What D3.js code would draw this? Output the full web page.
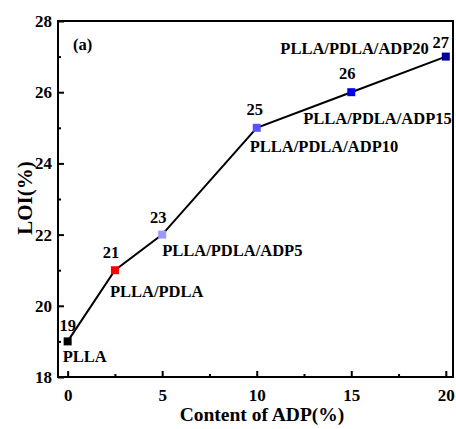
<!DOCTYPE html>
<html>
<head>
<meta charset="utf-8">
<script src="https://cdn.jsdelivr.net/npm/d3@7"></script>
<style>
  body { margin: 0; background: #fff; }
  svg text { font-family: "Liberation Serif", "Times New Roman", serif; font-weight: bold; fill: #000; }
</style>
</head>
<body>
<svg id="chart" width="456" height="429"></svg>
<script>
// data
const adpContent = [0, 2.5, 5, 10, 15, 20];
const loiValues = [19, 21, 22, 25, 26, 27];
const valueLabels = ["19", "21", "23", "25", "26", "27"];
const sampleNames = ["PLLA", "PLLA/PDLA", "PLLA/PDLA/ADP5", "PLLA/PDLA/ADP10", "PLLA/PDLA/ADP15", "PLLA/PDLA/ADP20"];
const markerColors = ["#000000", "#ff0000", "#9999ff", "#5555ff", "#0000ee", "#000099"];
const xTicks = [0, 5, 10, 15, 20];
const yTicks = [18, 20, 22, 24, 26, 28];

// label offsets relative to each marker (value label, name label)
const valueOffset = [[0, -10], [-4, -12], [-4, -12], [-2, -13], [-4, -13], [-5, -9]];
const nameOffset = [[-5, 21, "start"], [-5, 27, "start"], [0, 21, "start"], [-7, 24, "start"], [-48, 32, "start"], [-17, -3, "end"]];

const svg = d3.select("#chart");
const margin = {left: 58, right: 3, top: 21, bottom: 52};
const W = 456, H = 429;

const x = d3.scaleLinear().domain([-0.51, 20.38]).range([margin.left, W - margin.right]);
const y = d3.scaleLinear().domain([18, 28]).range([H - margin.bottom, margin.top]);

// frame
svg.append("rect")
  .attr("x", margin.left).attr("y", margin.top)
  .attr("width", W - margin.right - margin.left)
  .attr("height", H - margin.bottom - margin.top)
  .attr("fill", "none").attr("stroke", "#000").attr("stroke-width", 2);

// bottom axis, ticks inward
const xAxis = svg.append("g")
  .attr("transform", `translate(0,${H - margin.bottom})`)
  .call(d3.axisBottom(x).tickValues(xTicks).tickSize(-6).tickPadding(12));
xAxis.append("g").call(d3.axisBottom(x).tickValues([2.5, 7.5, 12.5, 17.5]).tickSize(-3).tickFormat(""));

const yAxis = svg.append("g")
  .attr("transform", `translate(${margin.left},0)`)
  .call(d3.axisLeft(y).tickValues(yTicks).tickSize(-6).tickPadding(6));
yAxis.append("g").call(d3.axisLeft(y).tickValues([19, 21, 23, 25, 27]).tickSize(-3).tickFormat(""));

svg.selectAll(".domain").remove();
svg.selectAll(".tick line").attr("stroke", "#000").attr("stroke-width", 2);
svg.selectAll(".tick text").attr("font-size", 17).attr("fill", "#000")
  .style("font-family", "Liberation Serif").style("font-weight", "bold");

// axis titles
svg.append("text")
  .attr("x", 262).attr("y", 421)
  .attr("text-anchor", "middle").attr("font-size", 19.5)
  .text("Content of ADP(%)");
svg.append("text")
  .attr("transform", `translate(32,198) rotate(-90)`)
  .attr("text-anchor", "middle").attr("font-size", 21)
  .text("LOI(%)");

svg.append("text").attr("x", 73).attr("y", 50).attr("font-size", 16.5).text("(a)");

// line
const pts = adpContent.map((d, i) => [d, loiValues[i]]);
svg.append("path")
  .datum(pts)
  .attr("fill", "none").attr("stroke", "#000").attr("stroke-width", 2)
  .attr("d", d3.line().x(d => x(d[0])).y(d => y(d[1])));

// markers
const ms = 8;
svg.selectAll(".marker")
  .data(pts)
  .enter().append("rect")
  .attr("class", "marker")
  .attr("x", d => x(d[0]) - ms / 2)
  .attr("y", d => y(d[1]) - ms / 2)
  .attr("width", ms).attr("height", ms)
  .attr("fill", (d, i) => markerColors[i]);

// value labels
svg.selectAll(".vlab")
  .data(pts)
  .enter().append("text")
  .attr("class", "vlab")
  .attr("x", (d, i) => x(d[0]) + valueOffset[i][0])
  .attr("y", (d, i) => y(d[1]) + valueOffset[i][1])
  .attr("text-anchor", "middle").attr("font-size", 16.5)
  .text((d, i) => valueLabels[i]);

// sample names
svg.selectAll(".nlab")
  .data(pts)
  .enter().append("text")
  .attr("class", "nlab")
  .attr("x", (d, i) => x(d[0]) + nameOffset[i][0])
  .attr("y", (d, i) => y(d[1]) + nameOffset[i][1])
  .attr("text-anchor", (d, i) => nameOffset[i][2]).attr("font-size", 16.5)
  .text((d, i) => sampleNames[i]);
</script>
</body>
</html>
